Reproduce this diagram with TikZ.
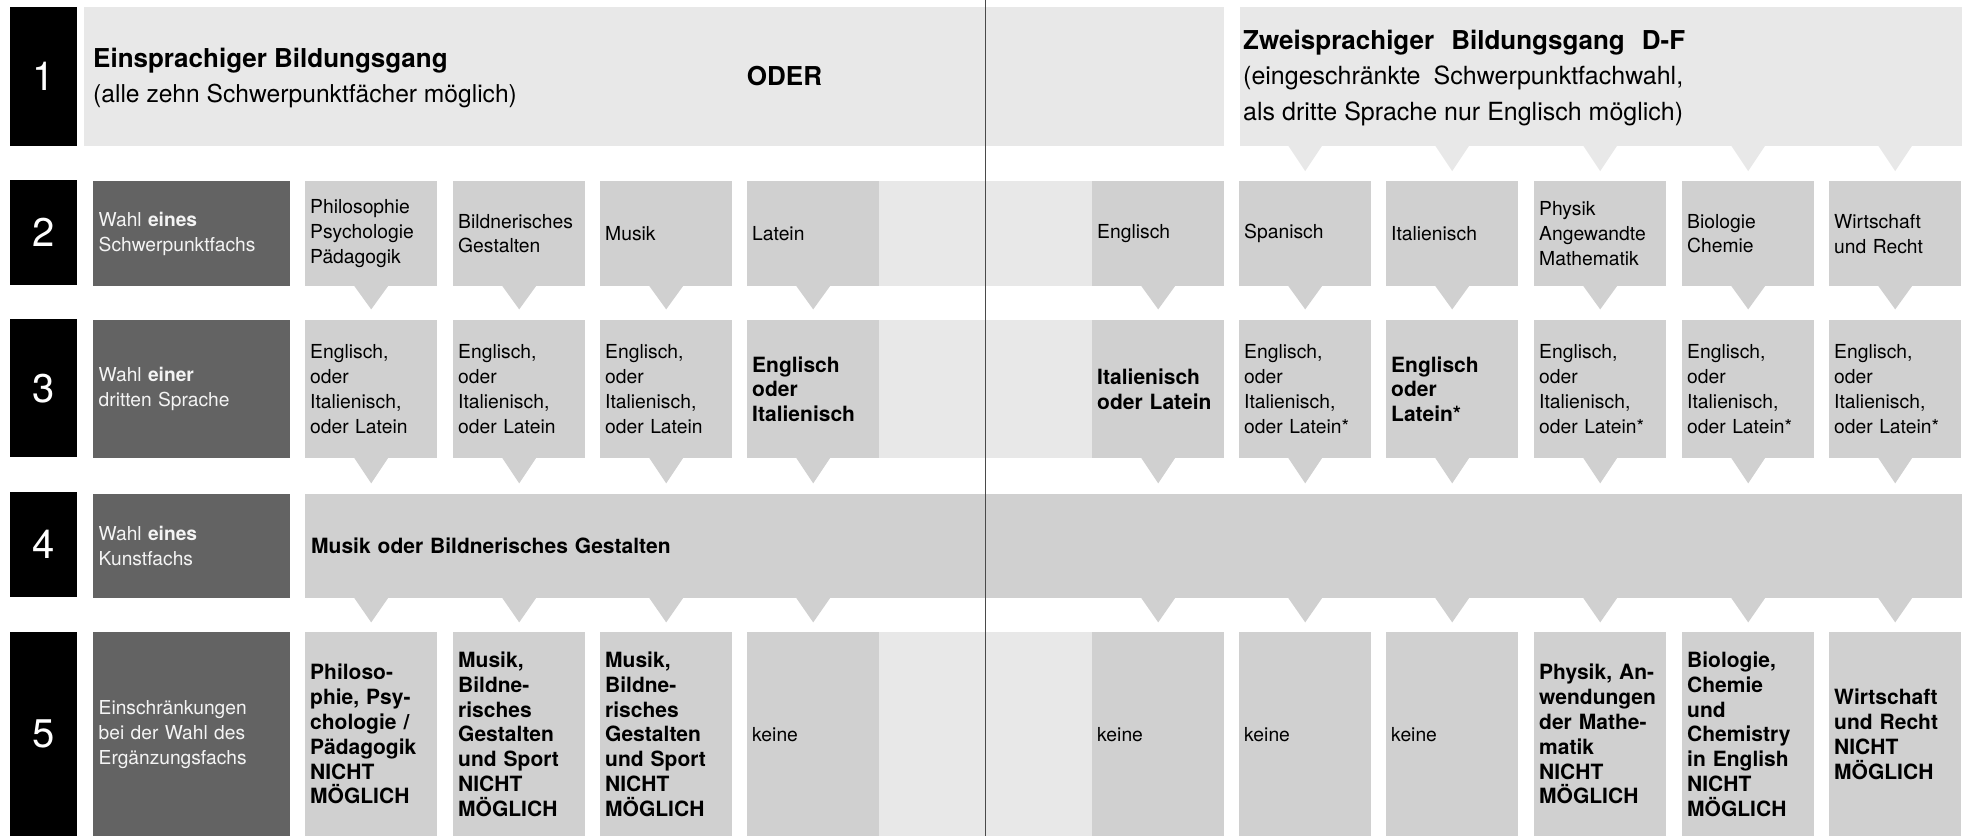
\documentclass[tikz,border=0pt]{standalone}
\usepackage{fontspec}
\setmainfont{TeX Gyre Heros}
\usetikzlibrary{calc}
\definecolor{lightg}{HTML}{E8E8E8}
\definecolor{boxg}{HTML}{D0D0D0}
\definecolor{labg}{HTML}{636363}
\definecolor{divider}{HTML}{4A4A4A}
\definecolor{labtext}{HTML}{F4F4F4}
\begin{document}
\begin{tikzpicture}[x=1pt,y=-1pt,
  numbox/.style={fill=black, text=white, anchor=north west, inner sep=0pt, minimum width=67pt, font=\fontsize{40}{40}\selectfont},
  labbox/.style={fill=labg, text=labtext, anchor=north west, inner xsep=6pt, inner ysep=0pt, text width=185.5pt, align=left, font=\fontsize{19.2}{25}\selectfont},
  colbox/.style={fill=boxg, anchor=north west, inner xsep=5pt, inner ysep=0pt, text width=122pt, align=left, font=\fontsize{19.3}{24.8}\selectfont},
  boldtxt/.style={font=\fontsize{21}{24.8}\selectfont\bfseries},
  fillerbox/.style={fill=lightg, anchor=north west, inner sep=0pt, minimum width=213pt},
  plainbox/.style={anchor=north west, inner sep=0pt},
]
\useasboundingbox (0,0) rectangle (1965,836);

% ---------- row 1
\node[numbox, minimum height=139pt] (n1) at (9.6,6.7) {1};
\node[plainbox, fill=lightg, minimum width=1140pt, minimum height=139pt] (r1L) at (84,6.7) {};
\node[plainbox, fill=lightg, minimum width=722pt, minimum height=139pt] (r1R) at (1240,6.7) {};
\node[anchor=west, align=left, inner sep=0pt, font=\fontsize{24.6}{34.5}\selectfont] (t1L) at (93,78)
  {{\fontsize{26}{34.5}\selectfont\bfseries Einsprachiger Bildungsgang}\\(alle zehn Schwerpunktfächer möglich)};
\node[inner sep=0pt, font=\fontsize{26}{31}\selectfont\bfseries] (oder) at (784.5,76) {ODER};
\node[anchor=west, align=left, inner sep=0pt, font=\fontsize{25}{35.5}\selectfont] (t1R) at (1243,78)
  {\makebox[442pt][s]{\fontsize{26}{35.5}\selectfont\bfseries Zweisprachiger Bildungsgang D-F}\\
   \makebox[440pt][s]{(eingeschränkte Schwerpunktfachwahl,}\\
   als dritte Sprache nur Englisch möglich)};

% ---------- row 2
\node[numbox, minimum height=105pt] (n2) at (9.6,180) {2};
\node[labbox, minimum height=105pt] (l2) at (92.5,181) {Wahl \textbf{eines}\\Schwerpunktfachs};
\node[colbox, minimum height=105pt] (a2) at (305,181) {Philosophie\\Psychologie\\Pädagogik};
\node[colbox, minimum height=105pt] (b2) at (453,181) {Bildnerisches\\Gestalten};
\node[colbox, minimum height=105pt] (c2) at (600,181) {Musik};
\node[colbox, minimum height=105pt] (d2) at (747,181) {Latein};
\node[fillerbox, minimum height=105pt] (fill2) at (879,181) {};
\node[colbox, minimum height=105pt] (e2) at (1092,181) {Englisch};
\node[colbox, minimum height=105pt] (f2) at (1239,181) {Spanisch};
\node[colbox, minimum height=105pt] (g2) at (1386,181) {Italienisch};
\node[colbox, minimum height=105pt] (h2) at (1534,181) {Physik\\Angewandte\\Mathematik};
\node[colbox, minimum height=105pt] (i2) at (1682,181) {Biologie\\Chemie};
\node[colbox, minimum height=105pt] (j2) at (1829,181) {Wirtschaft\\und Recht};

% ---------- row 3
\node[numbox, minimum height=138pt] (n3) at (9.6,319) {3};
\node[labbox, minimum height=138pt] (l3) at (92.5,320) {Wahl \textbf{einer}\\dritten Sprache};
\node[colbox, minimum height=138pt] (a3) at (305,320) {Englisch,\\oder\\Italienisch,\\oder Latein};
\node[colbox, minimum height=138pt] (b3) at (453,320) {Englisch,\\oder\\Italienisch,\\oder Latein};
\node[colbox, minimum height=138pt] (c3) at (600,320) {Englisch,\\oder\\Italienisch,\\oder Latein};
\node[colbox, boldtxt, minimum height=138pt] (d3) at (747,320) {Englisch\\oder\\Italienisch};
\node[fillerbox, minimum height=138pt] (fill3) at (879,320) {};
\node[colbox, boldtxt, minimum height=138pt] (e3) at (1092,320) {Italienisch\\oder Latein};
\node[colbox, minimum height=138pt] (f3) at (1239,320) {Englisch,\\oder\\Italienisch,\\oder Latein*};
\node[colbox, boldtxt, minimum height=138pt] (g3) at (1386,320) {Englisch\\oder\\Latein*};
\node[colbox, minimum height=138pt] (h3) at (1534,320) {Englisch,\\oder\\Italienisch,\\oder Latein*};
\node[colbox, minimum height=138pt] (i3) at (1682,320) {Englisch,\\oder\\Italienisch,\\oder Latein*};
\node[colbox, minimum height=138pt] (j3) at (1829,320) {Englisch,\\oder\\Italienisch,\\oder Latein*};

% ---------- row 4
\node[numbox, minimum height=105pt] (n4) at (9.6,492) {4};
\node[labbox, minimum height=104pt] (l4) at (92.5,494) {Wahl \textbf{eines}\\Kunstfachs};
\node[colbox, boldtxt, minimum height=104pt, text width=1645pt, inner xsep=6pt] (r4) at (305,494) {Musik oder Bildnerisches Gestalten};

% ---------- row 5
\node[numbox, minimum height=204pt] (n5) at (9.6,632) {5};
\node[labbox, minimum height=204pt] (l5) at (92.5,632) {Einschränkungen\\bei der Wahl des\\Ergänzungsfachs};
\node[colbox, boldtxt, minimum height=204pt] (a5) at (305,632) {Philoso-\\phie, Psy-\\chologie /\\Pädagogik\\NICHT\\MÖGLICH};
\node[colbox, boldtxt, minimum height=204pt] (b5) at (453,632) {Musik,\\Bildne-\\risches\\Gestalten\\und Sport\\NICHT\\MÖGLICH};
\node[colbox, boldtxt, minimum height=204pt] (c5) at (600,632) {Musik,\\Bildne-\\risches\\Gestalten\\und Sport\\NICHT\\MÖGLICH};
\node[colbox, minimum height=204pt] (d5) at (747,632) {keine};
\node[fillerbox, minimum height=204pt] (fill5) at (879,632) {};
\node[colbox, minimum height=204pt] (e5) at (1092,632) {keine};
\node[colbox, minimum height=204pt] (f5) at (1239,632) {keine};
\node[colbox, minimum height=204pt] (g5) at (1386,632) {keine};
\node[colbox, boldtxt, minimum height=204pt] (h5) at (1534,632) {Physik, An-\\wendungen\\der Mathe-\\matik\\NICHT\\MÖGLICH};
\node[colbox, boldtxt, minimum height=204pt] (i5) at (1682,632) {Biologie,\\Chemie\\und\\Chemistry\\in English\\NICHT\\MÖGLICH};
\node[colbox, boldtxt, minimum height=204pt] (j5) at (1829,632) {Wirtschaft\\und Recht\\NICHT\\MÖGLICH};

% ---------- callout triangles
\foreach \c in {f,g,h,i,j} {
  \coordinate (t1\c) at (r1R.south -| \c2.north);
  \fill[lightg] ($(t1\c)+(-17,-0.5)$) -- ($(t1\c)+(17,-0.5)$) -- ($(t1\c)+(0,25)$) -- cycle;
}
\foreach \c in {a,b,c,d,e,f,g,h,i,j} {
  \fill[boxg] ($(\c2.south)+(-17,-0.5)$) -- ($(\c2.south)+(17,-0.5)$) -- ($(\c2.south)+(0,23)$) -- cycle;
  \fill[boxg] ($(\c3.south)+(-17,-0.5)$) -- ($(\c3.south)+(17,-0.5)$) -- ($(\c3.south)+(0,25)$) -- cycle;
  \coordinate (t4\c) at (r4.south -| \c5.north);
  \fill[boxg] ($(t4\c)+(-17,-0.5)$) -- ($(t4\c)+(17,-0.5)$) -- ($(t4\c)+(0,24)$) -- cycle;
}

% ---------- divider
\coordinate (dtop) at (985.5,0);
\coordinate (dbot) at (985.5,836);
\draw[divider, line width=1.5pt] (dtop) -- (dbot);
\end{tikzpicture}
\end{document}
